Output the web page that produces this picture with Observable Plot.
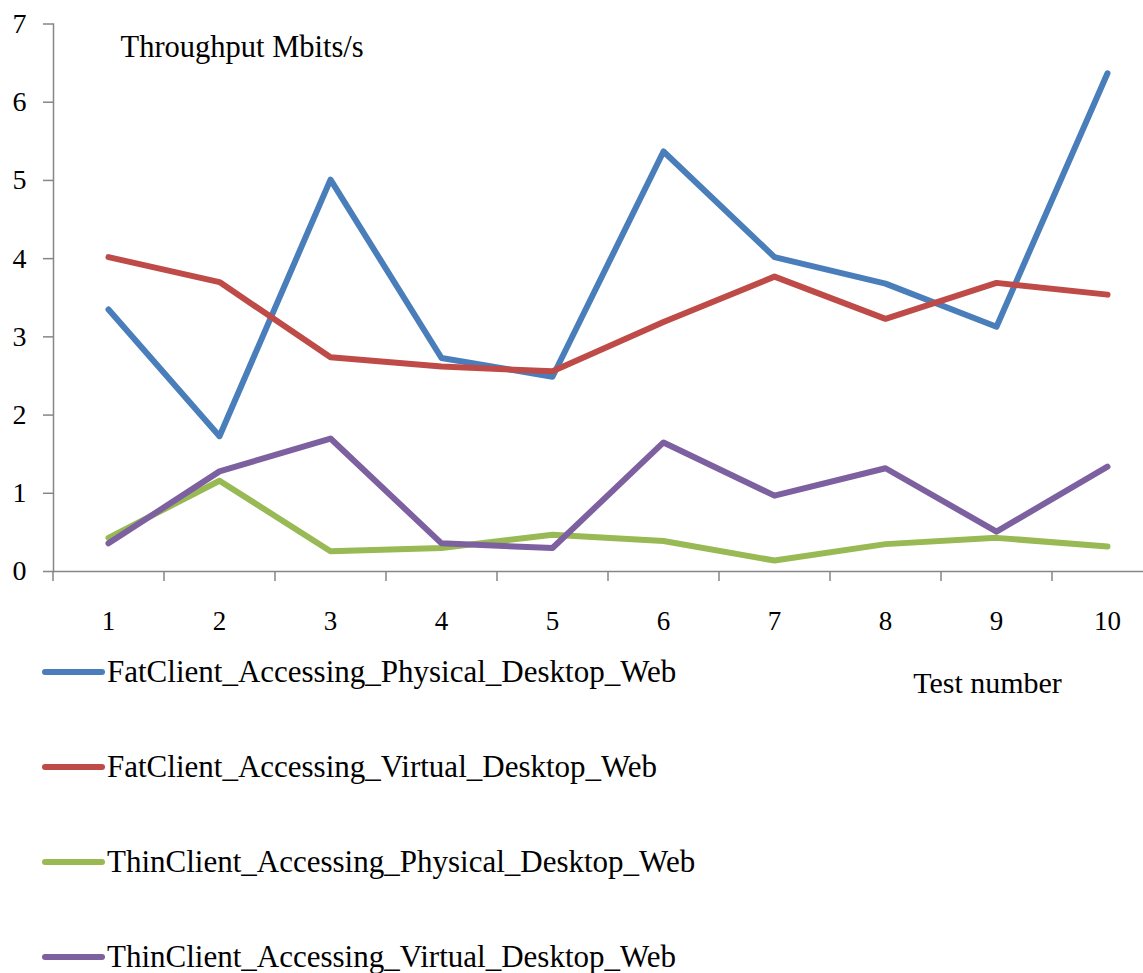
<!DOCTYPE html>
<html>
<head>
<meta charset="utf-8">
<script src="https://cdn.jsdelivr.net/npm/d3@7"></script>
<script src="https://cdn.jsdelivr.net/npm/@observablehq/plot@0.6"></script>
<style>
  html, body { margin: 0; padding: 0; background: #fff; }
  #wrap { position: relative; width: 1143px; height: 973px; overflow: hidden; font-family: "Liberation Serif", "Times New Roman", serif; }
  #legend { position: absolute; left: 42px; top: 624px; }
  .item { display: flex; align-items: center; height: 95px; font-size: 31px; color: #000; white-space: nowrap; }
  .sw { width: 63px; height: 6px; border-radius: 3px; margin-right: 2px; }
</style>
</head>
<body>
<div id="wrap">
  <div id="chart"></div>
  <div id="legend"></div>
</div>
<script>
const tests = [1, 2, 3, 4, 5, 6, 7, 8, 9, 10];
const seriesNames = [
  "FatClient_Accessing_Physical_Desktop_Web",
  "FatClient_Accessing_Virtual_Desktop_Web",
  "ThinClient_Accessing_Physical_Desktop_Web",
  "ThinClient_Accessing_Virtual_Desktop_Web"
];
const fatPhysical  = [3.35, 1.73, 5.01, 2.73, 2.49, 5.37, 4.02, 3.68, 3.13, 6.37];
const fatVirtual   = [4.02, 3.70, 2.74, 2.62, 2.56, 3.19, 3.77, 3.23, 3.69, 3.54];
const thinPhysical = [0.43, 1.16, 0.26, 0.30, 0.47, 0.39, 0.14, 0.35, 0.43, 0.32];
const thinVirtual  = [0.36, 1.28, 1.70, 0.36, 0.30, 1.65, 0.97, 1.32, 0.51, 1.34];
const colors = ["#4A7EBB", "#BE4B48", "#98B954", "#7D60A0"];
const yTicks = [0, 1, 2, 3, 4, 5, 6, 7];
const yLabel = "Throughput Mbits/s";
const xLabel = "Test number";

const seriesValues = [fatPhysical, fatVirtual, thinPhysical, thinVirtual];
const data = [];
seriesNames.forEach((name, i) => {
  tests.forEach((t, j) => data.push({series: name, test: t, value: seriesValues[i][j]}));
});
const boundaries = tests.map(t => t - 0.5).concat([tests[tests.length - 1] + 0.5]);

const axisColor = "#868686";
const font = "'Liberation Serif', 'Times New Roman', serif";

const chart = Plot.plot({
  width: 1143,
  height: 700,
  marginLeft: 53,
  marginRight: 0,
  marginTop: 23.5,
  marginBottom: 129,
  style: {fontFamily: font, background: "white", color: "#000"},
  x: {domain: [0.5, 10.5], range: [52.5, 1162.5]},
  y: {domain: [0, 7]},
  color: {domain: seriesNames, range: colors},
  marks: [
    Plot.frame({anchor: "left", stroke: axisColor, strokeWidth: 1.5}),
    Plot.ruleY([0], {stroke: axisColor, strokeWidth: 1.5}),
    Plot.axisY({ticks: yTicks, tickFormat: "d", tickSize: 10, tickPadding: 17, fontSize: 28, stroke: axisColor, strokeWidth: 1.5, fill: "#000", label: null}),
    Plot.axisX({ticks: boundaries, tickSize: 10, tickFormat: () => "", stroke: axisColor, strokeWidth: 1.5, label: null}),
    Plot.axisX({ticks: tests, tickFormat: "d", tickSize: 0, tickPadding: 39, fontSize: 27, fill: "#000", label: null}),
    Plot.line(data, {x: "test", y: "value", z: "series", stroke: "series", strokeWidth: 6, strokeLinejoin: "round", strokeLinecap: "round"}),
    Plot.text([yLabel], {frameAnchor: "top-left", dx: 67, dy: 23.5, textAnchor: "start", lineAnchor: "middle", fontSize: 30.5, fill: "#000"}),
    Plot.text([xLabel], {frameAnchor: "bottom-right", dx: -156, dy: 112, textAnchor: "middle", lineAnchor: "middle", fontSize: 30, fill: "#000"})
  ]
});
document.getElementById("chart").appendChild(chart);

const legend = document.getElementById("legend");
seriesNames.forEach((name, i) => {
  const item = document.createElement("div");
  item.className = "item";
  const sw = document.createElement("span");
  sw.className = "sw";
  sw.style.background = colors[i];
  const label = document.createElement("span");
  label.textContent = name;
  item.appendChild(sw);
  item.appendChild(label);
  legend.appendChild(item);
});
</script>
</body>
</html>
